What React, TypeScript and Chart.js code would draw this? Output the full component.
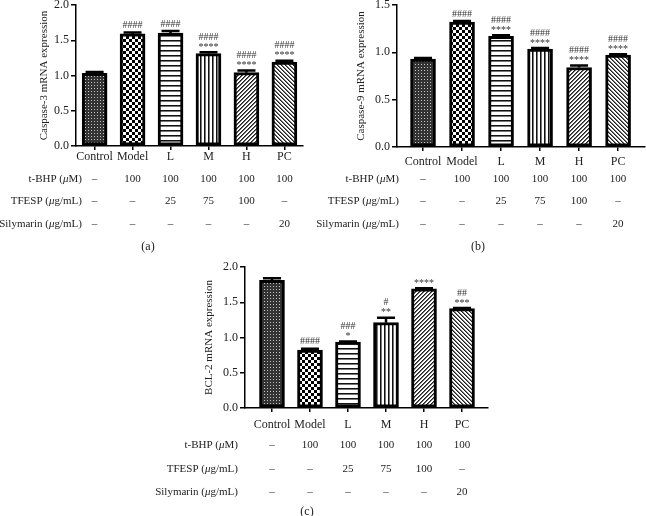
import React, { useEffect, useRef } from 'react';
import { Chart, registerables } from 'chart.js';
Chart.register(...registerables);

const categories = ['Control', 'Model', 'L', 'M', 'H', 'PC'];

const casp3Values = [1.03, 1.59, 1.6, 1.31, 1.04, 1.19];
const casp3Errors = [0.02, 0.02, 0.03, 0.02, 0.03, 0.02];
const casp3Marks = [[], ['####'], ['####'], ['####', '****'], ['####', '****'], ['####', '****']];

const casp9Values = [0.93, 1.32, 1.17, 1.035, 0.84, 0.97];
const casp9Errors = [0.01, 0.01, 0.01, 0.01, 0.02, 0.01];
const casp9Marks = [[], ['####'], ['####', '****'], ['####', '****'], ['####', '****'], ['####', '****']];

const bcl2Values = [1.81, 0.82, 0.935, 1.21, 1.69, 1.41];
const bcl2Errors = [0.03, 0.02, 0.01, 0.07, 0.01, 0.01];
const bcl2Marks = [[], ['####'], ['###', '*'], ['#', '**'], ['****'], ['##', '***']];

const tbhpRow = ['–', '100', '100', '100', '100', '100'];
const tfespRow = ['–', '–', '25', '75', '100', '–'];
const silyRow = ['–', '–', '–', '–', '–', '20'];

const rowLabels: [string, boolean][][] = [
  [['t-BHP (', false], ['μ', true], ['M)', false]],
  [['TFESP (', false], ['μ', true], ['g/mL)', false]],
  [['Silymarin (', false], ['μ', true], ['g/mL)', false]],
];
const tableRows = [tbhpRow, tfespRow, silyRow];

const FONT = '"Liberation Serif", "Times New Roman", serif';
const patternKinds = ['fine', 'checker', 'hlines', 'vlines', 'diagUp', 'diagDown'];

function makePattern(kind: string): CanvasPattern {
  const c = document.createElement('canvas');
  let s = 4;
  if (kind === 'fine') s = 3;
  if (kind === 'checker') s = 6;
  if (kind === 'hlines') s = 5;
  c.width = s;
  c.height = s;
  const g = c.getContext('2d')!;
  g.fillStyle = '#fff';
  g.fillRect(0, 0, s, s);
  const px = (x: number, y: number, col: string) => {
    g.fillStyle = col;
    g.fillRect(x, y, 1, 1);
  };
  if (kind === 'fine') {
    g.fillStyle = '#333';
    g.fillRect(0, 0, 3, 3);
    px(1, 1, '#c4c4c4');
  } else if (kind === 'checker') {
    g.fillStyle = '#000';
    g.fillRect(0, 0, 3, 3);
    g.fillRect(3, 3, 3, 3);
  } else if (kind === 'hlines') {
    g.fillStyle = '#111';
    g.fillRect(0, 0, s, 1);
    g.fillStyle = '#777';
    g.fillRect(0, 1, s, 1);
  } else if (kind === 'vlines') {
    g.fillStyle = '#111';
    g.fillRect(0, 0, 1, s);
    g.fillStyle = '#777';
    g.fillRect(1, 0, 1, s);
  } else if (kind === 'diagUp') {
    for (let x = 0; x < s; x++)
      for (let y = 0; y < s; y++) {
        const m = (x + y) % 4;
        if (m === 0) px(x, y, '#222');
        else if (m === 1) px(x, y, '#666');
      }
  } else if (kind === 'diagDown') {
    for (let x = 0; x < s; x++)
      for (let y = 0; y < s; y++) {
        const m = (x - y + 8) % 4;
        if (m === 0) px(x, y, '#222');
        else if (m === 1) px(x, y, '#777');
      }
  }
  return g.createPattern(c, 'repeat')!;
}

type Spec = {
  values: number[];
  errors: number[];
  marks: string[][];
  title: string;
  yMax: number;
  xMin: number;
  xMax: number;
  padding: { left: number; right: number; top: number; bottom: number };
  yWidth: number;
  xHeight: number;
  xLabelPad: number;
  rowYs: number[];
  rowLabelX: number;
  panel: string;
  panelX: number;
  panelY: number;
};

function buildChart(canvas: HTMLCanvasElement, spec: Spec) {
  const patterns = patternKinds.map(makePattern);
  const overlay = {
    id: 'overlay',
    afterDatasetsDraw(chart: any) {
      const ctx = chart.ctx as CanvasRenderingContext2D;
      const xs = chart.scales.x;
      const ys = chart.scales.y;
      ctx.save();
      spec.values.forEach((v, i) => {
        const x = xs.getPixelForValue(i);
        const yTop = ys.getPixelForValue(v);
        const yE = ys.getPixelForValue(v + spec.errors[i]);
        ctx.strokeStyle = '#000';
        ctx.lineWidth = 2.5;
        ctx.beginPath();
        ctx.moveTo(x, yTop);
        ctx.lineTo(x, yE);
        ctx.moveTo(x - 9, yE);
        ctx.lineTo(x + 9, yE);
        ctx.stroke();
        const lines = spec.marks[i];
        ctx.font = `10px ${FONT}`;
        ctx.fillStyle = '#333';
        ctx.textAlign = 'center';
        ctx.textBaseline = 'middle';
        lines.forEach((t, k) => {
          const yy = yE - 7 - (lines.length - 1 - k) * 8;
          ctx.fillText(t, x, t.startsWith('*') ? yy + 2 : yy);
        });
      });
      // table
      ctx.fillStyle = '#222';
      ctx.textBaseline = 'middle';
      tableRows.forEach((row, r) => {
        const y = spec.rowYs[r];
        ctx.textAlign = 'center';
        ctx.font = `11px ${FONT}`;
        row.forEach((t, i) => ctx.fillText(t, xs.getPixelForValue(i), y));
        const segs = rowLabels[r];
        let total = 0;
        const widths = segs.map(([t, it]) => {
          ctx.font = `${it ? 'italic ' : ''}11px ${FONT}`;
          const w = ctx.measureText(t).width;
          total += w;
          return w;
        });
        let cx = spec.rowLabelX - total;
        ctx.textAlign = 'left';
        segs.forEach(([t, it], k) => {
          ctx.font = `${it ? 'italic ' : ''}11px ${FONT}`;
          ctx.fillText(t, cx, y);
          cx += widths[k];
        });
      });
      ctx.textAlign = 'center';
      ctx.font = `12px ${FONT}`;
      ctx.fillText(spec.panel, spec.panelX, spec.panelY);
      ctx.restore();
    },
  };

  return new Chart(canvas, {
    type: 'bar',
    data: {
      datasets: [
        {
          data: spec.values.map((v, i) => ({ x: i, y: v })),
          backgroundColor: patterns as any,
          borderColor: '#000',
          borderWidth: 3,
          borderSkipped: false,
          barThickness: 25,
        },
      ],
    },
    options: {
      responsive: false,
      animation: false,
      devicePixelRatio: 1,
      layout: { padding: spec.padding },
      plugins: { legend: { display: false }, tooltip: { enabled: false } },
      scales: {
        x: {
          type: 'linear',
          min: spec.xMin,
          max: spec.xMax,
          offset: false,
          grid: {
            offset: false,
            drawOnChartArea: false,
            drawTicks: true,
            tickLength: 4,
            color: '#000',
            lineWidth: 1.5,
          },
          border: { display: true, color: '#000', width: 1.5 },
          ticks: {
            color: '#222',
            font: { family: FONT, size: 12 },
            padding: spec.xLabelPad,
            maxRotation: 0,
            autoSkip: false,
            callback: (v: any) => categories[Number(v)] ?? '',
          },
          afterBuildTicks: (scale: any) => {
            scale.ticks = categories.map((_, i) => ({ value: i }));
          },
          afterFit: (scale: any) => {
            scale.height = spec.xHeight;
            scale.paddingLeft = 0;
            scale.paddingRight = 0;
          },
        },
        y: {
          min: 0,
          max: spec.yMax,
          grid: {
            drawOnChartArea: false,
            drawTicks: true,
            tickLength: 5,
            color: '#000',
            lineWidth: 1.5,
          },
          border: { display: true, color: '#000', width: 1.5 },
          ticks: {
            stepSize: 0.5,
            color: '#222',
            padding: 2,
            font: { family: FONT, size: 12 },
            callback: (v: any) => Number(v).toFixed(1),
          },
          title: {
            display: true,
            text: spec.title,
            color: '#222',
            font: { family: FONT, size: 11 },
            padding: { top: 4, bottom: 4 },
          },
          afterFit: (scale: any) => {
            scale.width = spec.yWidth;
            scale.paddingTop = 0;
            scale.paddingBottom = 0;
          },
        },
      },
    },
    plugins: [overlay],
  } as any);
}

const specA: Spec = {
  values: casp3Values,
  errors: casp3Errors,
  marks: casp3Marks,
  title: 'Caspase-3 mRNA expression',
  yMax: 2,
  xMin: -0.49,
  xMax: 5.49,
  padding: { left: 34, right: 20, top: 5, bottom: 92 },
  yWidth: 42,
  xHeight: 20,
  xLabelPad: 0,
  rowYs: [179, 201, 224],
  rowLabelX: 82,
  panel: '(a)',
  panelX: 148,
  panelY: 247,
};

const specB: Spec = {
  values: casp9Values,
  errors: casp9Errors,
  marks: casp9Marks,
  title: 'Caspase-9 mRNA expression',
  yMax: 1.5,
  xMin: -0.667,
  xMax: 5.69,
  padding: { left: 51, right: 1, top: 5, bottom: 91 },
  yWidth: 46,
  xHeight: 20,
  xLabelPad: 4,
  rowYs: [179, 201, 224],
  rowLabelX: 99,
  panel: '(b)',
  panelX: 178,
  panelY: 247,
};

const specC: Spec = {
  values: bcl2Values,
  errors: bcl2Errors,
  marks: bcl2Marks,
  title: 'BCL-2 mRNA expression',
  yMax: 2,
  xMin: -0.71,
  xMax: 5.684,
  padding: { left: 59, right: 2, top: 9, bottom: 88 },
  yWidth: 46,
  xHeight: 20,
  xLabelPad: 6,
  rowYs: [187, 211, 234],
  rowLabelX: 98,
  panel: '(c)',
  panelX: 167,
  panelY: 254,
};

export default function App() {
  const refA = useRef<HTMLCanvasElement>(null);
  const refB = useRef<HTMLCanvasElement>(null);
  const refC = useRef<HTMLCanvasElement>(null);
  useEffect(() => {
    const charts = [
      buildChart(refA.current!, specA),
      buildChart(refB.current!, specB),
      buildChart(refC.current!, specC),
    ];
    return () => charts.forEach((c) => c.destroy());
  }, []);
  const cs = (l: number, t: number, w: number, h: number): React.CSSProperties => ({
    position: 'absolute',
    left: l,
    top: t,
    width: w,
    height: h,
  });
  return (
    <div style={{ position: 'absolute', left: 0, top: 0, width: 646, height: 516, background: '#fff', overflow: 'hidden' }}>
      <canvas ref={refA} width={323} height={258} style={cs(0, 0, 323, 258)} />
      <canvas ref={refB} width={346} height={258} style={cs(300, 0, 346, 258)} />
      <canvas ref={refC} width={350} height={258} style={cs(140, 258, 350, 258)} />
    </div>
  );
}
